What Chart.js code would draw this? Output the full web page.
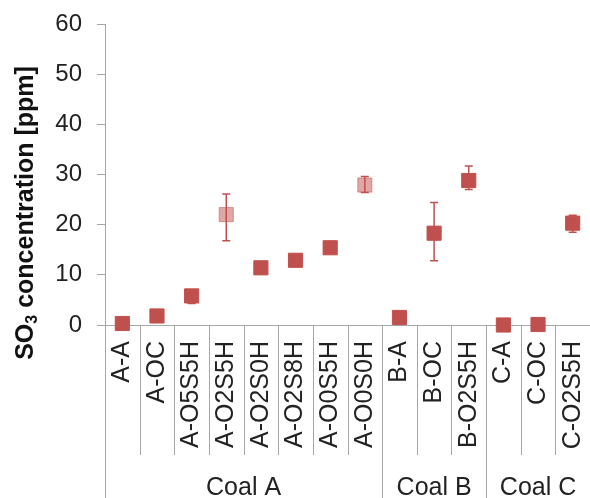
<!DOCTYPE html>
<html>
<head>
<meta charset="utf-8">
<script src="https://cdn.jsdelivr.net/npm/chart.js@4"></script>
<style>
  html, body { margin: 0; padding: 0; background: #fff; }
  #wrap { width: 590px; height: 498px; }
</style>
</head>
<body>
<div id="wrap"><canvas id="chart"></canvas></div>
<script>
const labels = ['A-A', 'A-OC', 'A-O5S5H', 'A-O2S5H', 'A-O2S0H', 'A-O2S8H', 'A-O0S5H', 'A-O0S0H',
                'B-A', 'B-OC', 'B-O2S5H', 'C-A', 'C-OC', 'C-O2S5H'];
const groups = ['Coal A', 'Coal B', 'Coal C'];
const groupSizes = [8, 3, 3];
const so3 = [0.3, 1.8, 5.8, 22.0, 11.4, 12.9, 15.4, 27.9, 1.5, 18.3, 28.8, 0.0, 0.1, 20.3];
const errUp = [0, 0, 0.8, 4.1, 0, 0, 0, 1.7, 0, 6.1, 2.9, 0, 0, 1.6];
const errDown = [0, 0, 1.5, 5.2, 0, 0, 0, 1.5, 0, 5.5, 1.8, 0, 0, 1.8];
const faded = ['A-O2S5H', 'A-O0S0H'];
const yMin = 0, yMax = 60, yStep = 10;

const FONT = "'Liberation Sans', Arial, sans-serif";
const RED = '#c0504d';
const RED_FADED = 'rgba(192, 80, 77, 0.5)';
const AXIS = '#a6a6a6';
const TEXT = '#222';

const pointColors = labels.map(l => faded.includes(l) ? RED_FADED : RED);

// error bars, drawn under the markers
const errorBars = {
  id: 'errorBars',
  beforeDatasetsDraw(chart) {
    const ctx = chart.ctx;
    const y = chart.scales.y;
    const meta = chart.getDatasetMeta(0);
    ctx.save();
    ctx.strokeStyle = RED;
    ctx.lineWidth = 1.5;
    meta.data.forEach((pt, i) => {
      if (!errUp[i] && !errDown[i]) return;
      const top = y.getPixelForValue(so3[i] + errUp[i]);
      const bot = y.getPixelForValue(so3[i] - errDown[i]);
      ctx.beginPath();
      ctx.moveTo(pt.x, top); ctx.lineTo(pt.x, bot);
      ctx.moveTo(pt.x - 4, top); ctx.lineTo(pt.x + 4, top);
      ctx.moveTo(pt.x - 4, bot); ctx.lineTo(pt.x + 4, bot);
      ctx.stroke();
    });
    ctx.restore();
  }
};

// two-level category axis + y title with subscript
const decorations = {
  id: 'decorations',
  beforeDatasetsDraw(chart) {
    const ctx = chart.ctx;
    const x = chart.scales.x;
    const area = chart.chartArea;
    const H = chart.height;
    const step = (area.right - area.left) / labels.length;
    const base = area.bottom;

    ctx.save();
    ctx.strokeStyle = AXIS;
    ctx.lineWidth = 1;
    const groupEdges = [0];
    groupSizes.reduce((acc, n) => { groupEdges.push(acc + n); return acc + n; }, 0);
    for (let i = 0; i <= labels.length; i++) {
      const px = Math.round(x.getPixelForValue(i) - step / 2) + 0.5;
      const end = groupEdges.includes(i) ? H : base + 130;
      ctx.beginPath();
      ctx.moveTo(px, base);
      ctx.lineTo(px, end);
      ctx.stroke();
    }

    ctx.fillStyle = TEXT;
    ctx.font = '25px ' + FONT;
    ctx.textAlign = 'center';
    ctx.textBaseline = 'alphabetic';
    groups.forEach((g, k) => {
      const a = x.getPixelForValue(groupEdges[k]) - step / 2;
      const b = x.getPixelForValue(groupEdges[k + 1]) - step / 2;
      ctx.fillText(g, (a + b) / 2, 495);
    });

    // y axis title
    const boldF = 'bold 25px ' + FONT;
    const subF = 'bold 16px ' + FONT;
    const parts = [['SO', boldF, 0], ['3', subF, 7], [' concentration [ppm]', boldF, 0]];
    let total = 0;
    parts.forEach(p => { ctx.font = p[1]; total += ctx.measureText(p[0]).width; });
    ctx.translate(26, 213);
    ctx.rotate(-Math.PI / 2);
    ctx.textAlign = 'left';
    ctx.textBaseline = 'middle';
    ctx.fillStyle = '#111';
    let cx = -total / 2;
    parts.forEach(p => {
      ctx.font = p[1];
      ctx.fillText(p[0], cx, p[2]);
      cx += ctx.measureText(p[0]).width;
    });
    ctx.restore();
  }
};

new Chart(document.getElementById('chart'), {
  type: 'line',
  data: {
    labels: labels,
    datasets: [{
      data: so3,
      showLine: false,
      clip: false,
      pointStyle: 'rect',
      pointRadius: 10,
      pointHoverRadius: 10,
      pointBackgroundColor: pointColors,
      pointBorderColor: pointColors,
      pointBorderWidth: 1
    }]
  },
  options: {
    responsive: true,
    maintainAspectRatio: false,
    animation: false,
    layout: { autoPadding: false, padding: { top: 24, right: 0, left: 0, bottom: 0 } },
    plugins: { legend: { display: false }, tooltip: { enabled: false } },
    scales: {
      x: {
        offset: true,
        grid: { display: false, drawTicks: false },
        border: { display: true, color: AXIS },
        ticks: {
          autoSkip: false,
          minRotation: 90,
          maxRotation: 90,
          padding: 16,
          color: TEXT,
          font: { family: FONT, size: 25 }
        },
        afterFit(scale) {
          scale.height = 173;
          scale.paddingLeft = 0;
          scale.paddingRight = 0;
        }
      },
      y: {
        min: yMin,
        max: yMax,
        grid: { drawOnChartArea: false, drawTicks: true, tickLength: 8, color: AXIS },
        border: { display: true, color: AXIS },
        ticks: {
          stepSize: yStep,
          padding: 15,
          color: TEXT,
          font: { family: FONT, size: 24 }
        },
        afterFit(scale) {
          scale.width = 105;
          scale.paddingTop = 0;
          scale.paddingBottom = 0;
        }
      }
    }
  },
  plugins: [decorations, errorBars]
});
</script>
</body>
</html>
